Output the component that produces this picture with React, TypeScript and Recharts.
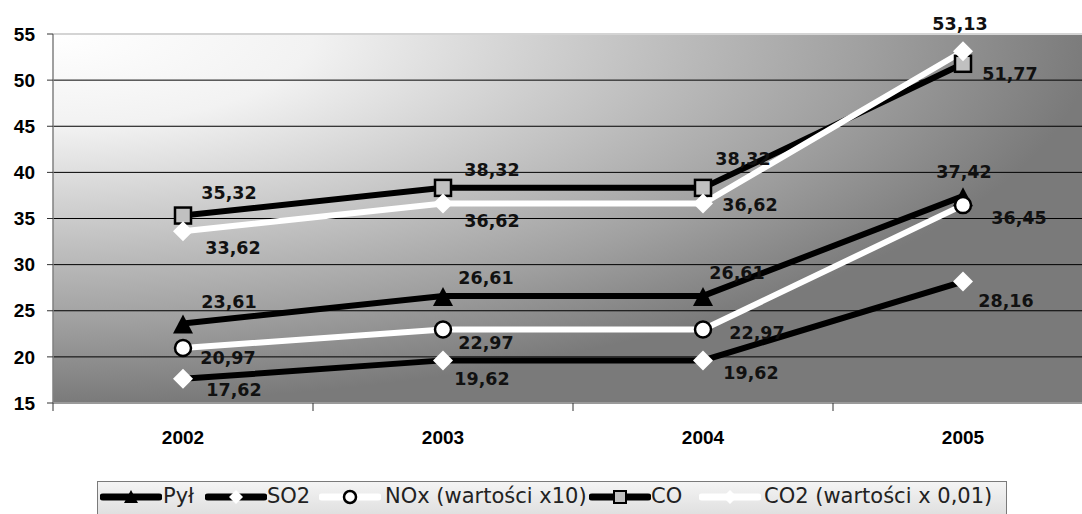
import React from "react";
import {
  LineChart,
  Line,
  XAxis,
  YAxis,
  CartesianGrid,
  ReferenceLine,
} from "recharts";

const years = ["2002", "2003", "2004", "2005"];
const pyl = [23.61, 26.61, 26.61, 37.42];
const so2 = [17.62, 19.62, 19.62, 28.16];
const nox = [20.97, 22.97, 22.97, 36.45];
const co = [35.32, 38.32, 38.32, 51.77];
const co2 = [33.62, 36.62, 36.62, 53.13];
const yTicks = [15, 20, 25, 30, 35, 40, 45, 50, 55];

const data = years.map((year, i) => ({
  year,
  pyl: pyl[i],
  so2: so2[i],
  nox: nox[i],
  co: co[i],
  co2: co2[i],
}));

// chart geometry: plot runs a bit past the right edge of the window, like the original
const CHART_W = 1100;
const CHART_H = 514;
const Y_AXIS_W = 53;
const MARGIN = { top: 34, right: 7, left: 0, bottom: 51 };
const HALF_BAND = (CHART_W - Y_AXIS_W - MARGIN.right) / years.length / 2;
const LEGEND_LEFT = 97;

// label offsets (dx, dy) from each point, per series
const pylLabelPos = [[46, -22], [43, -18], [34, -23], [1, -24]];
const so2LabelPos = [[51, 11], [39, 19], [48, 13], [43, 19]];
const noxLabelPos = [[45, 10], [43, 14], [54, 4], [56, 13]];
const coLabelPos = [[46, -23], [49, -18], [40, -29], [47, 10]];
const co2LabelPos = [[50, 17], [49, 17], [47, 1], [-3, -27]];

const fmt = (v: number) => v.toFixed(2).replace(".", ",");

const makeLabel = (pos: number[][]) => (p: any) => {
  const [dx, dy] = pos[p.index] || [0, 0];
  return (
    <text
      key={`l-${p.index}`}
      x={p.x + dx}
      y={p.y + dy}
      textAnchor="middle"
      dominantBaseline="central"
      fontFamily="DejaVu Sans"
      fontWeight="bold"
      fontSize={17.5}
      fill="#111"
    >
      {fmt(p.value)}
    </text>
  );
};

const triangle = (cx: number, cy: number) =>
  `${cx},${cy - 9} ${cx + 10},${cy + 10} ${cx - 10},${cy + 10}`;
const diamond = (cx: number, cy: number) =>
  `${cx},${cy - 10} ${cx + 10},${cy} ${cx},${cy + 10} ${cx - 10},${cy}`;

const TriangleDot = (p: any) => (
  <polygon key={`t-${p.index}`} points={triangle(p.cx, p.cy)} fill="#000" />
);
const DiamondDot = (p: any) => (
  <polygon key={`d-${p.index}`} points={diamond(p.cx, p.cy)} fill="#fff" />
);
const CircleDot = (p: any) => (
  <circle key={`c-${p.index}`} cx={p.cx} cy={p.cy} r={8} fill="#fff" stroke="#000" strokeWidth={2.5} />
);
const SquareDot = (p: any) => (
  <rect
    key={`s-${p.index}`}
    x={p.cx - 8}
    y={p.cy - 8}
    width={16}
    height={16}
    fill="#c0c0c0"
    stroke="#000"
    strokeWidth={2.5}
  />
);

const XTick = (p: any) => {
  const { x, y, payload } = p;
  return (
    <g>
      <line x1={x - HALF_BAND} x2={x - HALF_BAND} y1={y} y2={y + 8} stroke="#333" strokeWidth={1} />
      <text
        x={x}
        y={y + 41}
        textAnchor="middle"
        fontFamily="Liberation Sans"
        fontWeight="bold"
        fontSize={19}
        fill="#000"
      >
        {payload.value}
      </text>
    </g>
  );
};

type LegendItem = { name: string; left: number; textLeft: number; line: string; mark: string };

const legendItems: LegendItem[] = [
  { name: "Pył", left: 99, textLeft: 162, line: "#000", mark: "triangle" },
  { name: "SO2", left: 204, textLeft: 266, line: "#000", mark: "diamond" },
  { name: "NOx (wartości x10)", left: 318, textLeft: 384, line: "#fff", mark: "circle" },
  { name: "CO", left: 588, textLeft: 650, line: "#000", mark: "square" },
  { name: "CO2 (wartości x 0,01)", left: 698, textLeft: 763, line: "#fff", mark: "diamond" },
];

const LegendIcon = ({ item }: { item: LegendItem }) => {
  const cx = 31;
  const cy = 9;
  return (
    <svg
      width={62}
      height={18}
      style={{ position: "absolute", left: item.left - LEGEND_LEFT, top: 6 }}
    >
      <line x1={3} x2={59} y1={cy} y2={cy} stroke={item.line} strokeWidth={7} strokeLinecap="round" />
      {item.mark === "triangle" && <polygon points={`${cx},${cy - 7} ${cx + 7},${cy + 6} ${cx - 7},${cy + 6}`} fill="#000" />}
      {item.mark === "diamond" && <polygon points={`${cx},${cy - 7} ${cx + 7},${cy} ${cx},${cy + 7} ${cx - 7},${cy}`} fill="#fff" />}
      {item.mark === "circle" && <circle cx={cx} cy={cy} r={6} fill="#fff" stroke="#000" strokeWidth={2.5} />}
      {item.mark === "square" && <rect x={cx - 6} y={cy - 6} width={12} height={12} fill="#c0c0c0" stroke="#000" strokeWidth={2} />}
    </svg>
  );
};

export default function App() {
  return (
    <div
      style={{
        position: "absolute",
        left: 0,
        top: 0,
        width: 1082,
        height: 514,
        overflow: "hidden",
        background: "#fff",
      }}
    >
      <LineChart width={CHART_W} height={CHART_H} data={data} margin={MARGIN}>
        <defs>
          <radialGradient id="plotBg" cx="0" cy="0" r="1" fx="0" fy="0" gradientUnits="objectBoundingBox">
            <stop offset="0" stopColor="#ffffff" />
            <stop offset="0.25" stopColor="#f2f2f2" />
            <stop offset="0.52" stopColor="#c8c8c8" />
            <stop offset="0.78" stopColor="#a0a0a0" />
            <stop offset="1" stopColor="#7a7a7a" />
          </radialGradient>
        </defs>
        <CartesianGrid vertical={false} stroke="#000" fill="url(#plotBg)" fillOpacity={1} />
        <ReferenceLine y={55} stroke="#d4d4d4" strokeWidth={2} />
        <XAxis
          dataKey="year"
          height={60}
          padding={{ left: HALF_BAND, right: HALF_BAND }}
          tickLine={false}
          tickSize={0}
          tickMargin={0}
          axisLine={{ stroke: "#9a9a9a", strokeWidth: 2 }}
          tick={<XTick />}
          interval={0}
        />
        <YAxis
          width={Y_AXIS_W}
          domain={[15, 55]}
          ticks={yTicks}
          interval={0}
          tickSize={6}
          tickMargin={12}
          axisLine={{ stroke: "#808080", strokeWidth: 1.5 }}
          tickLine={{ stroke: "#333" }}
          tick={{ fill: "#000", fontSize: 19, fontWeight: "bold", fontFamily: "Liberation Sans" }}
        />
        <Line
          type="linear"
          dataKey="pyl"
          name="Pył"
          stroke="#000"
          strokeWidth={6}
          dot={TriangleDot}
          activeDot={false}
          label={makeLabel(pylLabelPos)}
          isAnimationActive={false}
        />
        <Line
          type="linear"
          dataKey="so2"
          name="SO2"
          stroke="#000"
          strokeWidth={6}
          dot={DiamondDot}
          activeDot={false}
          label={makeLabel(so2LabelPos)}
          isAnimationActive={false}
        />
        <Line
          type="linear"
          dataKey="nox"
          name="NOx (wartości x10)"
          stroke="#fff"
          strokeWidth={6}
          dot={CircleDot}
          activeDot={false}
          label={makeLabel(noxLabelPos)}
          isAnimationActive={false}
        />
        <Line
          type="linear"
          dataKey="co"
          name="CO"
          stroke="#000"
          strokeWidth={6}
          dot={SquareDot}
          activeDot={false}
          label={makeLabel(coLabelPos)}
          isAnimationActive={false}
        />
        <Line
          type="linear"
          dataKey="co2"
          name="CO2 (wartości x 0,01)"
          stroke="#fff"
          strokeWidth={6}
          dot={DiamondDot}
          activeDot={false}
          label={makeLabel(co2LabelPos)}
          isAnimationActive={false}
        />
      </LineChart>

      {/* legend box, cut off by the bottom edge like the original */}
      <div
        style={{
          position: "absolute",
          left: LEGEND_LEFT,
          top: 481,
          width: 910,
          height: 40,
          border: "1.5px solid #7a7a7a",
          background: "linear-gradient(#f4f4f4, #dcdcdc)",
          boxSizing: "border-box",
        }}
      >
        {legendItems.map((item) => (
          <React.Fragment key={item.name}>
            <LegendIcon item={item} />
            <span
              style={{
                position: "absolute",
                left: item.textLeft - LEGEND_LEFT,
                top: 0,
                lineHeight: "28px",
                fontFamily: "DejaVu Sans",
                fontSize: 21,
                color: "#222",
                whiteSpace: "nowrap",
              }}
            >
              {item.name}
            </span>
          </React.Fragment>
        ))}
      </div>
    </div>
  );
}
